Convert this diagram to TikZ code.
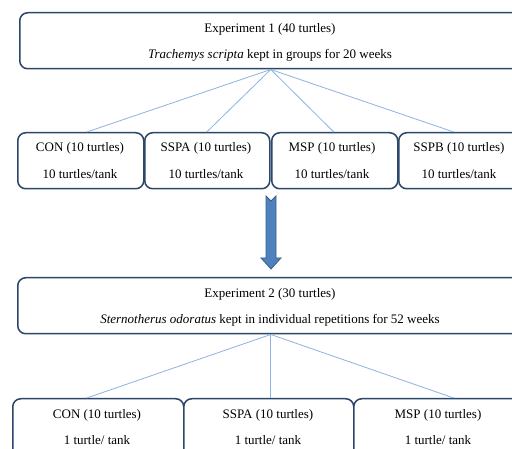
\documentclass[tikz,border=0pt]{standalone}
\usepackage{fontspec}
\setmainfont{Liberation Serif}
\definecolor{boxc}{RGB}{44,70,105}
\definecolor{linkc}{RGB}{141,179,226}
\definecolor{arrfill}{RGB}{79,129,189}
\definecolor{arrline}{RGB}{56,93,138}
\tikzset{
  box/.style={draw=boxc, line width=1.5pt, rounded corners=8pt, inner sep=0pt, anchor=north west, fill=white},
  txt/.style={inner sep=0pt, anchor=center, text height=9pt, text depth=3pt, font=\fontsize{13}{15}\selectfont},
  link/.style={draw=linkc, line width=0.8pt}
}
\begin{document}
\begin{tikzpicture}[x=1pt,y=-1pt]
\useasboundingbox (0,0) rectangle (512,449);
\clip (0,0) rectangle (512,449);
\fill[white] (0,0) rectangle (512,449);
% experiment 1
\node[box, minimum width=502pt, minimum height=56pt] (e1) at (19,12) {};
\node[txt] (e1a) at (270,30) {Experiment 1 (40 turtles)};
\node[txt] (e1b) at (270,56) {\textit{Trachemys scripta} kept in groups for 20 weeks};
% row 1
\node[box, minimum width=126pt, minimum height=56pt] (c1) at (17,132) {};
\node[box, minimum width=125pt, minimum height=56pt] (c2) at (144,132) {};
\node[box, minimum width=126pt, minimum height=56pt] (c3) at (271,132) {};
\node[box, minimum width=126pt, minimum height=56pt] (c4) at (398,132) {};
\node[txt] (c1a) at (80,149) {CON (10 turtles)};
\node[txt] (c1b) at (80,176) {10 turtles/tank};
\node[txt] (c2a) at (206,149) {SSPA (10 turtles)};
\node[txt] (c2b) at (206,176) {10 turtles/tank};
\node[txt] (c3a) at (332,149) {MSP (10 turtles)};
\node[txt] (c3b) at (332,176) {10 turtles/tank};
\node[txt] (c4a) at (459,149) {SSPB (10 turtles)};
\node[txt] (c4b) at (459,176) {10 turtles/tank};
\draw[link] (e1.south) -- ([xshift=6pt]c1.north);
\draw[link] (e1.south) -- ([xshift=-0.5pt]c2.north);
\draw[link] (e1.south) -- ([xshift=-1pt]c3.north);
\draw[link] (e1.south) -- ([xshift=-8pt]c4.north);
% arrow
\filldraw[fill=arrfill, draw=arrline, line width=0.8pt]
  (266,196) -- (271,201) -- (276,196) -- (276,258) -- (281,258) -- (271,269)
  -- (261,258) -- (266,258) -- cycle;
% experiment 2
\node[box, minimum width=506pt, minimum height=56pt] (e2) at (17,277) {};
\node[txt] (e2a) at (270,295) {Experiment 2 (30 turtles)};
\node[txt] (e2b) at (270,321) {\textit{Sternotherus odoratus} kept in individual repetitions for 52 weeks};
% row 3
\node[box, minimum width=171pt, minimum height=80pt] (d1) at (12,398) {};
\node[box, minimum width=170pt, minimum height=80pt] (d2) at (183,398) {};
\node[box, minimum width=170pt, minimum height=80pt] (d3) at (353,398) {};
\node[txt] (d1a) at (97,415) {CON (10 turtles)};
\node[txt] (d1b) at (97,441) {1 turtle/ tank};
\node[txt] (d2a) at (268,415) {SSPA (10 turtles)};
\node[txt] (d2b) at (268,441) {1 turtle/ tank};
\node[txt] (d3a) at (438,415) {MSP (10 turtles)};
\node[txt] (d3b) at (438,441) {1 turtle/ tank};
\draw[link] (e2.south) -- ([xshift=-11.5pt]d1.north);
\draw[link] (e2.south) -- ([xshift=2pt]d2.north);
\draw[link] (e2.south) -- ([xshift=15pt]d3.north);
\end{tikzpicture}
\end{document}
